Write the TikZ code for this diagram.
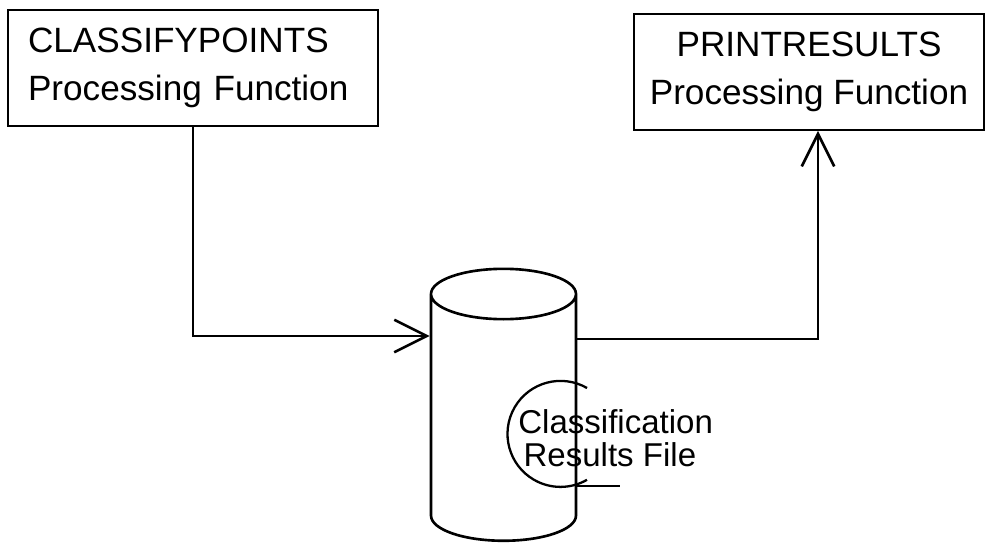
\documentclass[tikz,border=0pt]{standalone}
\usepackage{fontspec}
\setmainfont{Liberation Sans}
\usetikzlibrary{arrows.meta,positioning,shapes.geometric}
\tikzset{
  every picture/.style={font=\fontsize{20}{27}\selectfont, text=black},
  proc box/.style={draw=black, line width=1.1pt, inner ysep=0pt,
    minimum height=2.32cm},
  store cyl/.style={cylinder, shape border rotate=90, draw=black,
    line width=1.5pt, aspect=4.3, minimum width=2.9cm, minimum height=5.44cm},
  file text/.style={font=\fontsize{18.8}{18.5}\selectfont, align=left, inner sep=0pt},
  flow arrow/.style={-{Straight Barb[length=6.5mm,width=6.5mm,line width=1.5pt]},
    draw=black, line width=1.5pt},
  flow line/.style={draw=black, line width=1.3pt}
}

\begin{document}
\begin{tikzpicture}[x=0.02cm, y=0.02cm]
  \useasboundingbox (0,0) rectangle (987,542);
  \node[proc box, text width=6.6cm, inner xsep=0.4cm, align=left] (classify) at (193,474)
    {CLASSIFYPOINTS\\Processing Function};
  \node[proc box, minimum width=7cm, align=center] (printres) at (809,470)
    {PRINTRESULTS\\Processing Function};
  \node[store cyl] (store) at (503.5,119) {};
  \node[file text, anchor=west] (resfile) at (518,104)
    {Classification\\\hspace*{3pt}Results File};
  % joins on the store
  \coordinate (storein) at ([yshift=87*0.02cm]store.west);
  \coordinate (storeout) at ([yshift=84*0.02cm]store.east);
  \draw[flow arrow] (classify.south) |- (storein);
  \draw[flow arrow] (storeout) -| ([xshift=9*0.02cm]printres.south);
  % file label
  \draw[flow line] ([shift={(69,50)}]resfile.west)
    arc[start angle=60, end angle=300, radius=53];
  \draw[flow line] ([shift={(57,-48)}]resfile.west) -- ++(45,0);
\end{tikzpicture}
\end{document}
